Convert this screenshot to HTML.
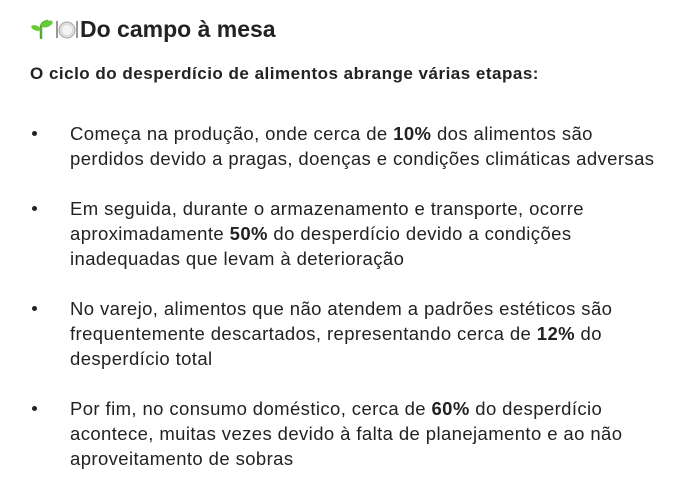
<!DOCTYPE html>
<html><head><meta charset="utf-8"><style>
body{margin:0;background:#fff;width:685px;height:487px;overflow:hidden;font-family:"Liberation Sans",sans-serif;color:#222;}
.t{position:absolute;left:30px;top:16px;font-size:23px;font-weight:bold;white-space:nowrap;}
.s{position:absolute;left:30px;top:64px;font-size:17px;font-weight:bold;letter-spacing:0.5px;white-space:nowrap;}
.b{position:absolute;left:70px;font-size:18.5px;letter-spacing:0.4px;line-height:25px;white-space:nowrap;}
.d{position:absolute;left:32px;width:5px;height:5px;border-radius:3px;background:#222;}
</style></head><body>
<div class="t"><svg width="50" height="22" style="vertical-align:-3px"><path d="M11 21 V10 Q11 4 18 3" stroke="#5a3" stroke-width="2.5" fill="none"/><ellipse cx="17" cy="6" rx="6" ry="3" fill="#6c3" transform="rotate(-20 17 6)"/><ellipse cx="6" cy="10" rx="5" ry="2.5" fill="#6c3" transform="rotate(20 6 10)"/><rect x="26" y="3" width="2" height="17" fill="#999"/><circle cx="37" cy="12" r="8" fill="#ddd" stroke="#aaa"/><circle cx="37" cy="12" r="5" fill="#f4f4f4"/><rect x="46" y="3" width="2" height="17" fill="#999"/></svg>Do campo à mesa</div>
<div class="s">O ciclo do desperdício de alimentos abrange várias etapas:</div>
<div class="d" style="top:131px"></div>
<div class="b" style="top:121px">Começa na produção, onde cerca de <b>10%</b> dos alimentos são<br>perdidos devido a pragas, doenças e condições climáticas adversas</div>
<div class="d" style="top:206px"></div>
<div class="b" style="top:196px">Em seguida, durante o armazenamento e transporte, ocorre<br>aproximadamente <b>50%</b> do desperdício devido a condições<br>inadequadas que levam à deterioração</div>
<div class="d" style="top:306px"></div>
<div class="b" style="top:296px">No varejo, alimentos que não atendem a padrões estéticos são<br>frequentemente descartados, representando cerca de <b>12%</b> do<br>desperdício total</div>
<div class="d" style="top:406px"></div>
<div class="b" style="top:396px">Por fim, no consumo doméstico, cerca de <b>60%</b> do desperdício<br>acontece, muitas vezes devido à falta de planejamento e ao não<br>aproveitamento de sobras</div>
</body></html>
